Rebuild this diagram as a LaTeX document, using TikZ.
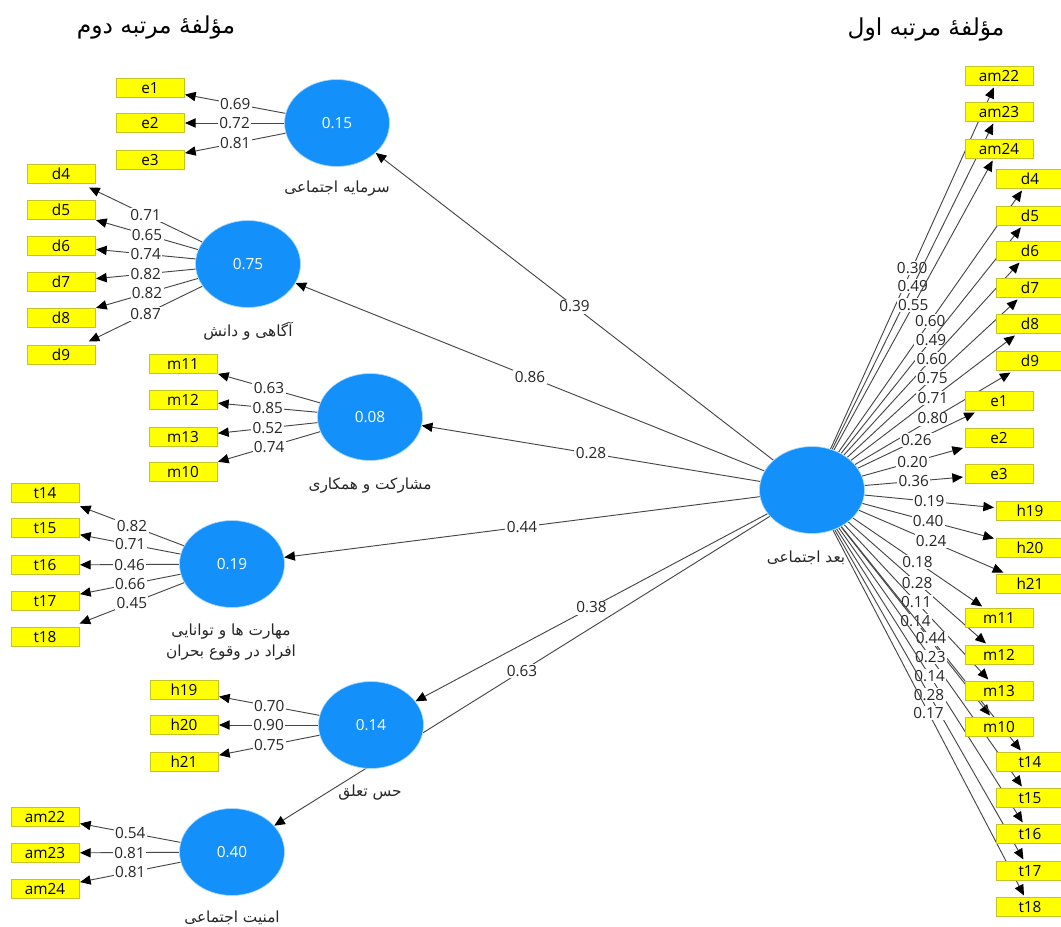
\documentclass[tikz,border=0pt]{standalone}
\usepackage{fontspec}
\setmainfont{Open Sans}
\newfontfamily\fa[Script=Arabic]{DejaVu Sans}
\TeXXeTstate=1
\usetikzlibrary{shapes.geometric,arrows.meta}
\pgfdeclarelayer{bg}
\pgfsetlayers{bg,main}
\definecolor{lvblue}{RGB}{20,144,250}
\definecolor{boxyel}{RGB}{255,255,0}
\definecolor{boxedge}{RGB}{196,196,40}
\definecolor{edgegray}{RGB}{70,70,70}
\begin{document}
\begin{tikzpicture}[x=0.75pt,y=-0.75pt,
  lv/.style={ellipse,fill=lvblue,draw=lvblue!35,line width=0.5pt,minimum width=78.75pt,minimum height=65.25pt,inner sep=0pt,text=white,font=\fontsize{11.5}{13}\selectfont},
  ind/.style={rectangle,fill=boxyel,draw=boxedge,line width=0.6pt,minimum width=51pt,minimum height=14.25pt,inner sep=0pt,font=\fontsize{11.5}{13}\selectfont},
  indL/.style={ind,outer xsep=0.75pt,outer ysep=3pt},
  indR/.style={ind,outer sep=1.5pt},
  link/.style={draw=edgegray,line width=0.7pt,-{Triangle[length=8pt,width=7pt,color=black]}},
  val/.style={fill=white,inner sep=1pt,font=\fontsize{11.5}{13}\selectfont,text=black!85},
  falabel/.style={font=\fa\fontsize{11.5}{16}\selectfont,text=black!85,align=center},
  title/.style={font=\fa\fontsize{17.5}{20}\selectfont,text=black},
]
\useasboundingbox (0,0) rectangle (1061,926);

% titles
\node[title] (T2) at (156,27) {\beginR مؤلفهٔ مرتبه دوم\endR};
\node[title] (T1) at (926,29) {\beginR مؤلفهٔ مرتبه اول\endR};

% latent variables
\node[lv] (S1) at (337,123) {0.15};
\node[lv] (S2) at (248,264) {0.75};
\node[lv] (S3) at (370,417) {0.08};
\node[lv] (S4) at (232,564) {0.19};
\node[lv] (S5) at (371,725) {0.14};
\node[lv] (S6) at (232,852) {0.40};
\node[lv] (F)  at (812,490) {};

% latent labels
\node[falabel] (N1) at (337,189) {\beginR سرمایه اجتماعی\endR};
\node[falabel] (N2) at (248,331) {\beginR آگاهی و دانش\endR};
\node[falabel] (N3) at (370,486) {\beginR مشارکت و همکاری\endR};
\node[falabel] (N4) at (231,642) {\beginR مهارت ها و توانایی\endR\\\beginR افراد در وقوع بحران\endR};
\node[falabel] (N5) at (370,793) {\beginR حس تعلق\endR};
\node[falabel] (N6) at (232,918) {\beginR امنیت اجتماعی\endR};
\node[falabel] (NF) at (806,558) {\beginR بعد اجتماعی\endR};

% left indicators
\node[indL] (Le1) at (150,88) {e1};
\node[indL] (Le2) at (150,123) {e2};
\node[indL] (Le3) at (150,160) {e3};
\node[indL] (Ld4) at (61,174) {d4};
\node[indL] (Ld5) at (61,210) {d5};
\node[indL] (Ld6) at (61,246) {d6};
\node[indL] (Ld7) at (61,282) {d7};
\node[indL] (Ld8) at (61,318) {d8};
\node[indL] (Ld9) at (61,355) {d9};
\node[indL] (Lm11) at (183,364) {m11};
\node[indL] (Lm12) at (183,400) {m12};
\node[indL] (Lm13) at (183,437) {m13};
\node[indL] (Lm10) at (183,472) {m10};
\node[indL] (Lt14) at (45,493) {t14};
\node[indL] (Lt15) at (45,528) {t15};
\node[indL] (Lt16) at (45,565) {t16};
\node[indL] (Lt17) at (45,601) {t17};
\node[indL] (Lt18) at (45,637) {t18};
\node[indL] (Lh19) at (184,690) {h19};
\node[indL] (Lh20) at (184,725) {h20};
\node[indL] (Lh21) at (184,762) {h21};
\node[indL] (La22) at (45,817) {am22};
\node[indL] (La23) at (45,853) {am23};
\node[indL] (La24) at (45,889) {am24};

% right indicators
\node[indR] (Ra22) at (999,76) {am22};
\node[indR] (Ra23) at (999,112) {am23};
\node[indR] (Ra24) at (999,149) {am24};
\node[indR] (Rd4) at (1030,179) {d4};
\node[indR] (Rd5) at (1030,216) {d5};
\node[indR] (Rd6) at (1030,251) {d6};
\node[indR] (Rd7) at (1030,288) {d7};
\node[indR] (Rd8) at (1030,324) {d8};
\node[indR] (Rd9) at (1030,361) {d9};
\node[indR] (Re1) at (999,401) {e1};
\node[indR] (Re2) at (999,438) {e2};
\node[indR] (Re3) at (999,474) {e3};
\node[indR] (Rh19) at (1030,511) {h19};
\node[indR] (Rh20) at (1030,548) {h20};
\node[indR] (Rh21) at (1030,584) {h21};
\node[indR] (Rm11) at (999,618) {m11};
\node[indR] (Rm12) at (999,655) {m12};
\node[indR] (Rm13) at (999,691) {m13};
\node[indR] (Rm10) at (999,727) {m10};
\node[indR] (Rt14) at (1030,762) {t14};
\node[indR] (Rt15) at (1030,798) {t15};
\node[indR] (Rt16) at (1030,834) {t16};
\node[indR] (Rt17) at (1030,871) {t17};
\node[indR] (Rt18) at (1030,907) {t18};

\begin{pgfonlayer}{bg}
% structural paths
\draw[link] (F) -- node[val]{0.39} (S1);
\draw[link] (F) -- node[val]{0.86} (S2);
\draw[link] (F) -- node[val]{0.28} (S3);
\draw[link] (F) -- node[val]{0.44} (S4);
\draw[link] (F) -- node[val]{0.38} (S5);
\draw[link] (F) -- node[val]{0.63} (S6);
% left loadings
\draw[link] (S1) -- node[val]{0.69} (Le1);
\draw[link] (S1) -- node[val]{0.72} (Le2);
\draw[link] (S1) -- node[val]{0.81} (Le3);
\draw[link] (S2) -- node[val]{0.71} (Ld4);
\draw[link] (S2) -- node[val]{0.65} (Ld5);
\draw[link] (S2) -- node[val]{0.74} (Ld6);
\draw[link] (S2) -- node[val]{0.82} (Ld7);
\draw[link] (S2) -- node[val]{0.82} (Ld8);
\draw[link] (S2) -- node[val]{0.87} (Ld9);
\draw[link] (S3) -- node[val]{0.63} (Lm11);
\draw[link] (S3) -- node[val]{0.85} (Lm12);
\draw[link] (S3) -- node[val]{0.52} (Lm13);
\draw[link] (S3) -- node[val]{0.74} (Lm10);
\draw[link] (S4) -- node[val]{0.82} (Lt14);
\draw[link] (S4) -- node[val]{0.71} (Lt15);
\draw[link] (S4) -- node[val]{0.46} (Lt16);
\draw[link] (S4) -- node[val]{0.66} (Lt17);
\draw[link] (S4) -- node[val]{0.45} (Lt18);
\draw[link] (S5) -- node[val]{0.70} (Lh19);
\draw[link] (S5) -- node[val]{0.90} (Lh20);
\draw[link] (S5) -- node[val]{0.75} (Lh21);
\draw[link] (S6) -- node[val]{0.54} (La22);
\draw[link] (S6) -- node[val]{0.81} (La23);
\draw[link] (S6) -- node[val]{0.81} (La24);
% right loadings
\draw[link] (F) -- node[val]{0.30} (Ra22);
\draw[link] (F) -- node[val]{0.49} (Ra23);
\draw[link] (F) -- node[val]{0.55} (Ra24);
\draw[link] (F) -- node[val]{0.60} (Rd4);
\draw[link] (F) -- node[val]{0.49} (Rd5);
\draw[link] (F) -- node[val]{0.60} (Rd6);
\draw[link] (F) -- node[val]{0.75} (Rd7);
\draw[link] (F) -- node[val]{0.71} (Rd8);
\draw[link] (F) -- node[val]{0.80} (Rd9);
\draw[link] (F) -- node[val]{0.26} (Re1);
\draw[link] (F) -- node[val]{0.20} (Re2);
\draw[link] (F) -- node[val]{0.36} (Re3);
\draw[link] (F) -- node[val]{0.19} (Rh19);
\draw[link] (F) -- node[val]{0.40} (Rh20);
\draw[link] (F) -- node[val]{0.24} (Rh21);
\draw[link] (F) -- node[val]{0.18} (Rm11);
\draw[link] (F) -- node[val]{0.28} (Rm12);
\draw[link] (F) -- node[val]{0.11} (Rm13);
\draw[link] (F) -- node[val]{0.14} (Rm10);
\draw[link] (F) -- node[val]{0.44} (Rt14);
\draw[link] (F) -- node[val]{0.23} (Rt15);
\draw[link] (F) -- node[val]{0.14} (Rt16);
\draw[link] (F) -- node[val]{0.28} (Rt17);
\draw[link] (F) -- node[val]{0.17} (Rt18);
\end{pgfonlayer}
\end{tikzpicture}
\end{document}
